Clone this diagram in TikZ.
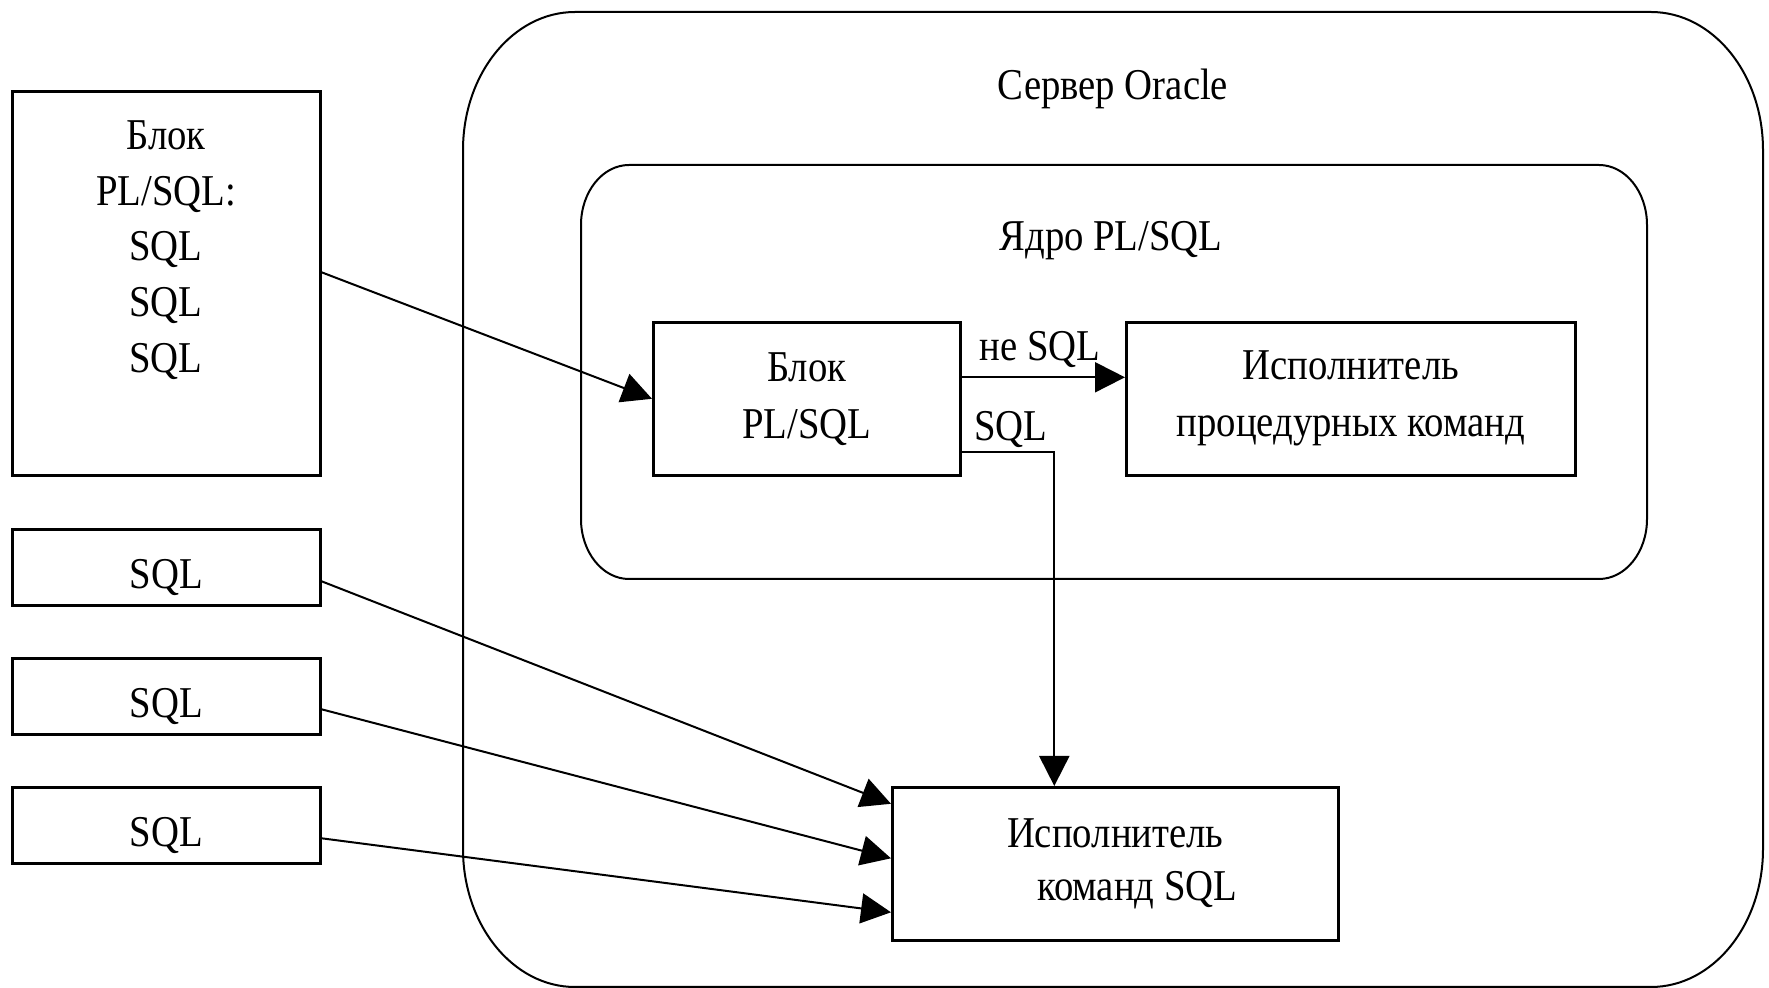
\documentclass[tikz,border=0pt]{standalone}
\usepackage{fontspec}
\setmainfont{Liberation Serif}[FakeStretch=0.88]
\usetikzlibrary{arrows.meta}
\tikzset{
  box/.style={draw, line width=1.3pt, inner sep=0pt, anchor=north west},
  txt/.style={font=\fontsize{22pt}{28.5pt}\selectfont, align=center, inner sep=0pt},
  sqlbox/.style={box, txt, minimum width=154pt, minimum height=38pt, text height=25pt},
  arr/.style={line width=1pt, -{Triangle[length=15pt,width=15pt]}},
  frame/.style={line width=1pt},
}
\begin{document}
\begin{tikzpicture}[x=0.5pt,y=-0.5pt]
\useasboundingbox (0,0) rectangle (1769,988);
% outer server frame
\draw[frame] (575,12) -- (1651,12) .. controls (1712.9,12) and (1763,73.8) .. (1763,150)
  -- (1763,849) .. controls (1763,925.2) and (1712.9,987) .. (1651,987)
  -- (575,987) .. controls (513.1,987) and (463,925.2) .. (463,849)
  -- (463,150) .. controls (463,73.8) and (513.1,12) .. (575,12) -- cycle;
% inner PL/SQL engine frame
\draw[frame] (629,165) -- (1599,165) .. controls (1625.5,165) and (1647,191.9) .. (1647,225)
  -- (1647,519) .. controls (1647,552.1) and (1625.5,579) .. (1599,579)
  -- (629,579) .. controls (602.5,579) and (581,552.1) .. (581,519)
  -- (581,225) .. controls (581,191.9) and (602.5,165) .. (629,165) -- cycle;
\node[txt] (srv) at (1113,89) {Сервер Oracle};
\node[txt] (core) at (1111,241) {Ядро PL/SQL};
% left side
\node[box, minimum width=154pt, minimum height=192pt] (blk) at (11,90) {};
\node[txt, font=\fontsize{22pt}{27.8pt}\selectfont] (blktxt) at (166,250) {Блок\\PL/SQL:\\SQL\\SQL\\SQL};
\node[sqlbox] (s1) at (11,528) {SQL};
\node[sqlbox] (s2) at (11,657) {SQL};
\node[sqlbox] (s3) at (11,786) {SQL};
% inner boxes
\node[box, txt, minimum width=153.5pt, minimum height=76.5pt] (plb) at (652,321) {Блок\\PL/SQL};
\node[box, txt, minimum width=224.5pt, minimum height=76.5pt] (proc) at (1125,321) {Исполнитель\\процедурных команд};
\node[box, txt, font=\fontsize{22pt}{26.5pt}\selectfont, minimum width=223pt, minimum height=76.5pt] (sqlex) at (891,786) {Исполнитель\\\hspace*{22pt}команд SQL};
% labels
\node[txt] (lnot) at (1040,350) {не SQL};
\node[txt] (lsql) at (1011,430) {SQL};
% connectors
\draw[arr] ([yshift=5.5pt]blk.east) -- (plb.west);
\draw[arr] ([yshift=10.75pt]plb.east) -- ([yshift=10.75pt]proc.west);
\draw[arr] ([yshift=-26.75pt]plb.east) -| ([xshift=-30.5pt]sqlex.north);
\draw[arr] ([yshift=-7pt]s1.east) -- ([yshift=30pt]sqlex.west);
\draw[arr] ([yshift=-6.5pt]s2.east) -- ([yshift=2.75pt]sqlex.west);
\draw[arr] ([yshift=-6.5pt]s3.east) -- ([yshift=-24.25pt]sqlex.west);
\end{tikzpicture}
\end{document}
